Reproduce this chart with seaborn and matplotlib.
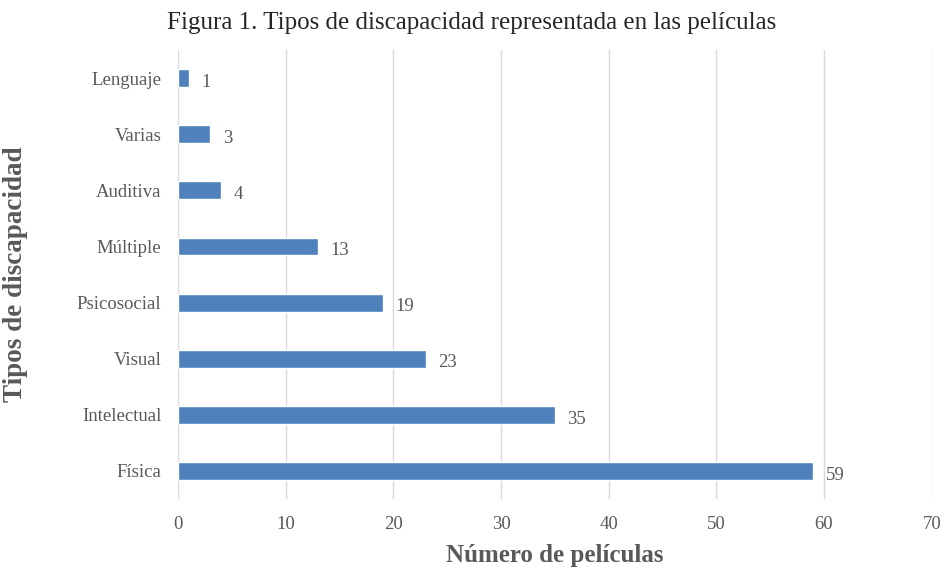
import pandas as pd
import seaborn as sns
import matplotlib.pyplot as plt

# disability types and number of films
tipos = ['Lenguaje', 'Varias', 'Auditiva', 'Múltiple', 'Psicosocial',
         'Visual', 'Intelectual', 'Física']
peliculas = [1, 3, 4, 13, 19, 23, 35, 59]
x_ticks = [0, 10, 20, 30, 40, 50, 60, 70]

df = pd.DataFrame({'tipo': tipos, 'n': peliculas})

sns.set_style('white')
plt.rcParams['font.family'] = ['Liberation Serif', 'DejaVu Serif']

gray = '#595959'
fig = plt.figure(figsize=(9.44, 5.69), dpi=100)
ax = fig.add_axes([0.1886, 0.123, 0.7984, 0.789])

sns.barplot(data=df, x='n', y='tipo', orient='h', color='#4F81BD',
            saturation=1, width=0.32, ax=ax)

ax.set_xlim(0, 70)
ax.set_xticks(x_ticks)
ax.xaxis.grid(True, color='#D9D9D9', linewidth=1)
ax.set_axisbelow(True)
for s in ax.spines.values():
    s.set_visible(False)
ax.tick_params(axis='both', length=0, labelsize=13.5, colors=gray, pad=12)
ax.tick_params(axis='y', pad=12)

# value labels
for i, v in enumerate(peliculas):
    ax.annotate(str(v), (v, i), xytext=(9, -3), textcoords='offset points',
                ha='left', va='center', fontsize=13.5, color=gray)

ax.set_xlabel('Número de películas', fontsize=18, fontweight='bold',
              color=gray)
ax.xaxis.set_label_coords(0.5, -0.125)
ax.set_ylabel('Tipos de discapacidad', fontsize=19.5, fontweight='bold',
              color=gray)
ax.yaxis.set_label_coords(-0.216, 0.5)
ax.yaxis.label.set_va('center')
ax.xaxis.label.set_va('center')
fig.text(0.5, 0.96, 'Figura 1. Tipos de discapacidad representada en las películas',
         ha='center', va='center', fontsize=18, color='#262626')

fig.savefig('out.png', dpi=100)
